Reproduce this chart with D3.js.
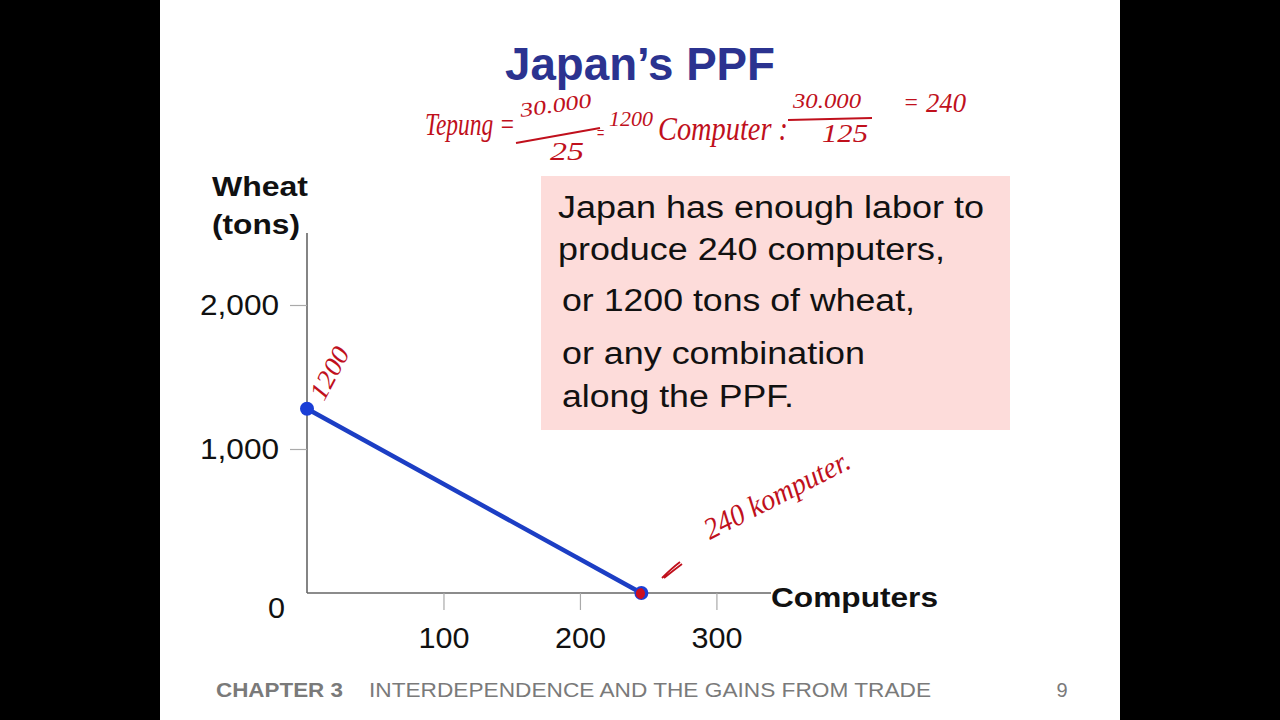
<!DOCTYPE html>
<html><head><meta charset="utf-8">
<script src="https://cdn.jsdelivr.net/npm/d3@7"></script>
<style>html,body{margin:0;padding:0;background:#000;}svg{display:block;}</style>
</head><body>
<svg id="c" width="1280" height="720"></svg>
<script>
// ---- data ----
const ppfComputers = [0, 245];
const ppfWheat = [1280, 0];
const xTicks = [100, 200, 300];
const yTicks = [1000, 2000];
const yTickLabels = ["1,000", "2,000"];
const titleText = "Japan\u2019s PPF";
const boxLines = ["Japan has enough labor to", "produce 240 computers,", "or 1200 tons of wheat,", "or any combination", "along the PPF."];
const footerChapter = "CHAPTER 3";
const footerTitle = "INTERDEPENDENCE AND THE GAINS FROM TRADE";
const pageNumber = "9";

const svg = d3.select("#c");
svg.append("rect").attr("x",160).attr("y",0).attr("width",960).attr("height",720).attr("fill","#fff");

const x = d3.scaleLinear().domain([0, 340]).range([307, 771]);
const y = d3.scaleLinear().domain([0, 2500]).range([593, 233]);

function applyAttrs(sel,o){for(const k in o) sel.attr(k,o[k]); return sel;}
const FONT = "Liberation Sans, Arial, sans-serif";
function fit(sel,w){return sel.attr("textLength",w).attr("lengthAdjust","spacingAndGlyphs");}

// title
fit(svg.append("text").attr("x",505).attr("y",80)
  .attr("font-family",FONT).attr("font-weight","bold")
  .attr("font-size",46).attr("fill","#2b3390").text(titleText),270);

// pink box
svg.append("rect").attr("x",541).attr("y",176).attr("width",469).attr("height",254).attr("fill","#fddcda");
const bx = [558,558,562,562,562], by = [218,260,311,364,407], bw = [426,387,353,303,232];
boxLines.forEach((t,i)=>fit(svg.append("text").attr("x",bx[i]).attr("y",by[i])
  .attr("font-family",FONT).attr("font-size",31).attr("fill","#111").text(t),bw[i]));

// axes
const gx = svg.append("g").attr("transform",`translate(0,${y(0)})`)
  .call(d3.axisBottom(x).tickValues(xTicks).tickSize(17).tickFormat(""));
gx.select(".domain").attr("stroke","#666").attr("stroke-width",1.6).attr("d",`M${x(0)},0H${x(340)}`);
gx.selectAll(".tick line").attr("stroke","#aaa").attr("stroke-width",1.2);
const gy = svg.append("g").attr("transform",`translate(${x(0)},0)`)
  .call(d3.axisLeft(y).tickValues(yTicks).tickSize(17).tickFormat(""));
gy.select(".domain").attr("stroke","#666").attr("stroke-width",1.6).attr("d",`M0,${y(0)}V${y(2500)}`);
gy.selectAll(".tick line").attr("stroke","#aaa").attr("stroke-width",1.2);

const lab = {"font-family":FONT,"font-size":29,"fill":"#111"};
xTicks.forEach(v=>fit(applyAttrs(svg.append("text"),lab).attr("x",x(v)-25).attr("y",648).text(v),51));
yTicks.forEach((v,i)=>fit(applyAttrs(svg.append("text"),lab).attr("x",200).attr("y",y(v)+10).text(yTickLabels[i]),79));
fit(applyAttrs(svg.append("text"),lab).attr("x",268).attr("y",618).text("0"),17);

// axis titles
const bold = {"font-family":FONT,"font-size":27,"font-weight":"bold","fill":"#111"};
fit(applyAttrs(svg.append("text"),bold).attr("x",212).attr("y",196).text("Wheat"),96);
fit(applyAttrs(svg.append("text"),bold).attr("x",212).attr("y",234).text("(tons)"),88);
fit(applyAttrs(svg.append("text"),bold).attr("x",771).attr("y",607).text("Computers"),167);

// PPF line
const pts = ppfComputers.map((c,i)=>[c, ppfWheat[i]]);
svg.append("path").datum(pts)
  .attr("d", d3.line().x(d=>x(d[0])).y(d=>y(d[1])))
  .attr("stroke","#1c3ec4").attr("stroke-width",4.5).attr("fill","none");
svg.selectAll(".dot").data(pts).join("circle")
  .attr("cx",d=>x(d[0])).attr("cy",d=>y(d[1])).attr("r",7).attr("fill","#1a3ed6");

// handwritten annotations (red)
const HW = "Liberation Serif, serif";
const red = "#c0101c";
const hw = (tx,ty,t,size,w,rot)=>{
  const s = svg.append("text").attr("x",tx).attr("y",ty)
    .attr("font-family",HW).attr("font-style","italic").attr("font-size",size)
    .attr("fill",red).attr("transform",rot?`rotate(${rot},${tx},${ty})`:null).text(t);
  if(w) fit(s,w);
  return s;
};
hw(425,135,"Tepung =",32,90);
hw(521,117,"30.000",20,72,-8);
svg.append("path").attr("d","M516,143 L600,128").attr("stroke",red).attr("stroke-width",2).attr("fill","none");
hw(550,160,"25",26,34);
hw(596,140,"=",20,9);
hw(609,126,"1200",20,44);
hw(658,140,"Computer :",34,130);
hw(793,108,"30.000",22,68);
svg.append("path").attr("d","M788,120 L872,118").attr("stroke",red).attr("stroke-width",2).attr("fill","none");
hw(822,142,"125",26,46);
hw(903,110,"=",24,16);
hw(926,112,"240",28,40);
hw(324,402,"1200",26,56,-62);
hw(710,540,"240 komputer.",30,160,-27);
svg.append("path").attr("d","M662,578 Q672,568 680,562 M664,578 Q674,570 682,564").attr("stroke",red).attr("stroke-width",1.8).attr("fill","none");
svg.append("path").attr("d",`M${x(245)},${y(0)-5} a6,6 0 0,1 0,11 a4,4 0 0,1 0,-11`).attr("fill","#cc1020");

// footer
fit(svg.append("text").attr("x",216).attr("y",697).attr("font-family",FONT).attr("font-weight","bold")
  .attr("font-size",20).attr("fill","#7a7a7a").text(footerChapter),127);
fit(svg.append("text").attr("x",369).attr("y",697).attr("font-family",FONT)
  .attr("font-size",20).attr("fill","#7a7a7a").text(footerTitle),562);
svg.append("text").attr("x",1062).attr("y",697).attr("text-anchor","middle").attr("font-family",FONT)
  .attr("font-size",20).attr("fill","#7a7a7a").text(pageNumber);
</script></body></html>
